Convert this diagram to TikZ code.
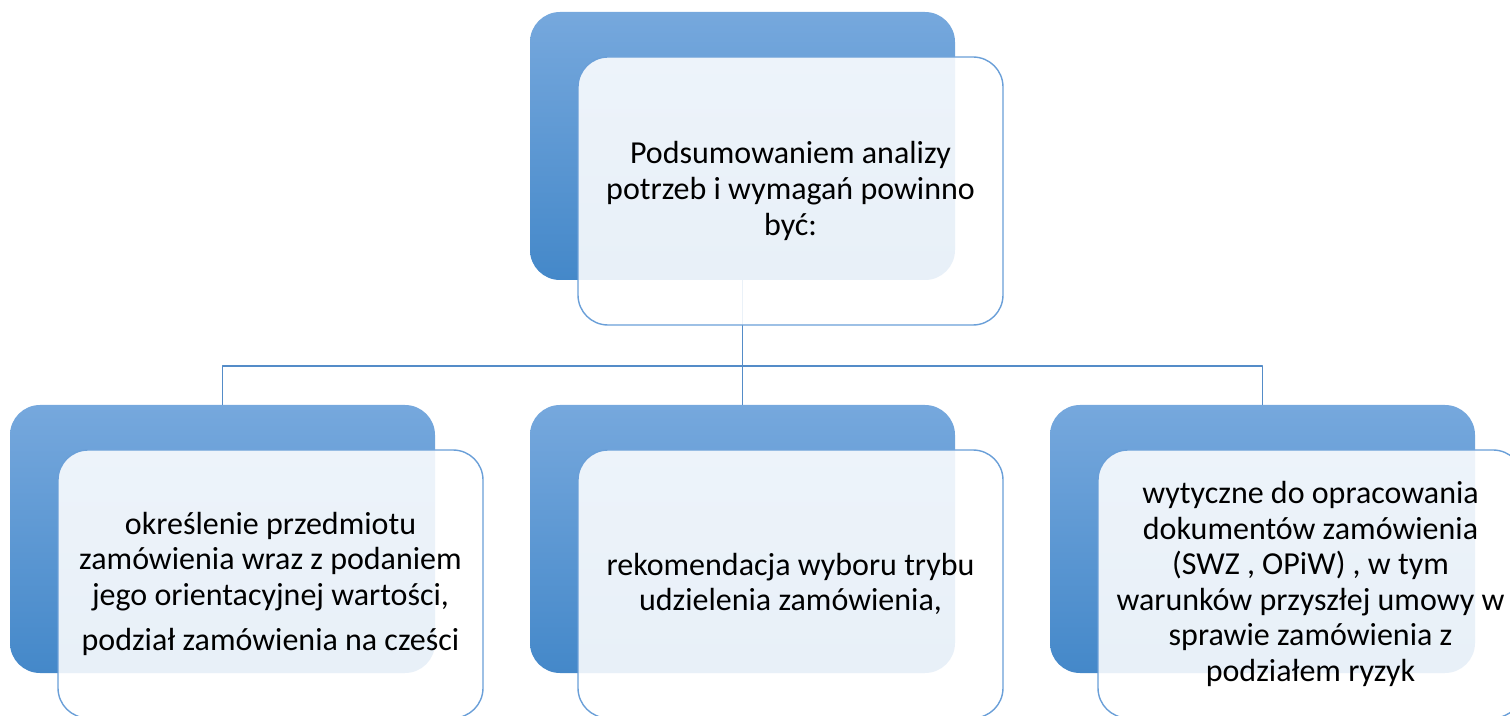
\documentclass[tikz,border=0pt]{standalone}
\usepackage{fontspec}
\setmainfont{Carlito}
\usetikzlibrary{positioning}
\definecolor{bluetop}{RGB}{118,168,221}
\definecolor{bluebottom}{RGB}{68,136,201}
\definecolor{linkblue}{RGB}{84,140,200}
\definecolor{edgeblue}{RGB}{106,159,216}

\begin{document}
\begin{tikzpicture}[x=0.5pt,y=-0.5pt,line join=round,
  backbox/.style={rounded corners=15pt,minimum width=212.5pt,minimum height=134pt,
    top color=bluetop,bottom color=bluebottom,draw=none,inner sep=0pt},
  frontbox/.style={rounded corners=15pt,minimum width=212.5pt,minimum height=134pt,
    fill=white,fill opacity=0.88,text opacity=1,draw=edgeblue,line width=0.7pt,
    align=center,inner sep=0pt,xshift=24pt,yshift=-22.5pt,
    font=\fontsize{16}{17.8}\selectfont},
  link/.style={draw=linkblue,line width=0.7pt}]
\useasboundingbox (0,0) rectangle (1510,716);
\clip (0,0) rectangle (1510,716);
% back boxes
\node[backbox] (bTop) at (742.5,146) {};
\node[backbox] (bLeft) at (222.5,539) {};
\node[backbox] (bMid) at (742.5,539) {};
\node[backbox] (bRight) at (1262.5,539) {};
% connectors
\coordinate (fork) at (742.5,366);
\draw[link] (bTop.south) -- (fork);
\draw[link] (fork) -| (bLeft.north);
\draw[link] (fork) -- (bMid.north);
\draw[link] (fork) -| (bRight.north);
% front boxes
\node[frontbox] (fTop) at (bTop) {Podsumowaniem analizy\\ potrzeb i wymagań powinno\\ być:};
\node[frontbox] (fLeft) at (bLeft) {określenie przedmiotu\\ zamówienia wraz z podaniem\\ jego orientacyjnej wartości,\\[5pt] podział zamówienia na cześci};
\node[frontbox] (fMid) at (bMid) {rekomendacja wyboru trybu\\ udzielenia zamówienia,};
\node[frontbox] (fRight) at (bRight) {wytyczne do opracowania\\ dokumentów zamówienia\\ (SWZ , OPiW) , w tym\\ warunków przyszłej umowy w\\ sprawie zamówienia z\\ podziałem ryzyk};
\end{tikzpicture}
\end{document}
